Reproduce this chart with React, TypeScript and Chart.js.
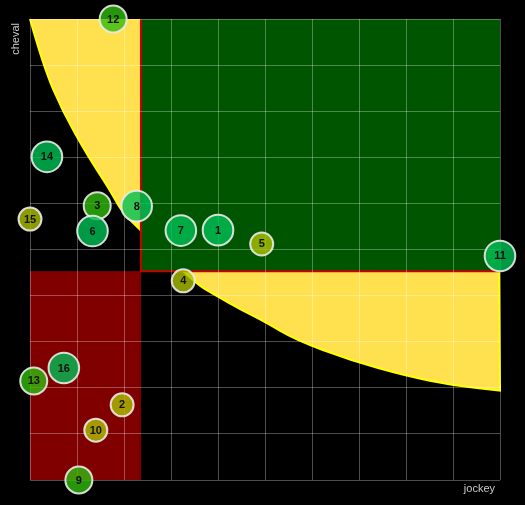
import React, { useEffect, useRef } from "react";
import { Chart, registerables } from "chart.js";

Chart.register(...registerables);

// ---- data ----
const ids = ["1", "2", "3", "4", "5", "6", "7", "8", "9", "10", "11", "12", "13", "14", "15", "16"];
const jockey = [40.0, 19.6, 14.3, 32.6, 49.3, 13.3, 32.1, 22.7, 10.4, 14.0, 100, 17.7, 0.8, 3.6, 0, 7.2];
const cheval = [54.2, 16.3, 59.5, 43.2, 51.2, 54.0, 54.1, 59.4, 0, 10.8, 48.6, 100, 21.5, 70.1, 56.6, 24.3];
const grade = [3, 1, 2, 1, 1, 3, 3, 3, 2, 1, 3, 2, 2, 3, 1, 3];

const jockeyThreshold = 23.6;
const chevalThreshold = 45.3;

const curveJockey = [0, 2.8, 7.0, 12.4, 17.0, 19.5, 23.0, 35.1, 39.4, 45.0, 50.0, 56.5, 68.1, 80.0, 90.1, 100];
const curveCheval = [100, 89.8, 79.8, 70.1, 62.9, 58.2, 54.7, 42.7, 40.1, 36.9, 34.3, 30.4, 26.0, 22.6, 20.5, 19.4];

const axisMin = 0;
const axisMax = 100;
const axisStep = 10;

// ---- styles ----
const gradeRadius: Record<number, number> = { 1: 11.5, 2: 13.5, 3: 15.3 };
const gradeColor: Record<number, string> = {
  1: "rgba(172,192,0,0.8)",
  2: "rgba(50,187,12,0.8)",
  3: "rgba(0,191,85,0.8)",
};

const regionsPlugin = {
  id: "regions",
  beforeDraw(chart: any) {
    const { ctx, scales } = chart;
    const x = scales.x;
    const y = scales.y;
    ctx.save();
    ctx.fillStyle = "#000";
    ctx.fillRect(0, 0, chart.width, chart.height);

    // yellow region above the curve
    const pts = curveJockey.map((v, i) => [x.getPixelForValue(v), y.getPixelForValue(curveCheval[i])]);
    const tracePath = () => {
      ctx.moveTo(pts[0][0], pts[0][1]);
      for (let i = 1; i < pts.length - 1; i++) {
        const mx = (pts[i][0] + pts[i + 1][0]) / 2;
        const my = (pts[i][1] + pts[i + 1][1]) / 2;
        ctx.quadraticCurveTo(pts[i][0], pts[i][1], mx, my);
      }
      const last = pts[pts.length - 1];
      ctx.lineTo(last[0], last[1]);
    };
    ctx.beginPath();
    tracePath();
    ctx.lineTo(x.getPixelForValue(axisMax), y.getPixelForValue(axisMax));
    ctx.lineTo(x.getPixelForValue(axisMin), y.getPixelForValue(axisMax));
    ctx.closePath();
    ctx.fillStyle = "rgb(255,225,80)";
    ctx.fill();

    ctx.beginPath();
    tracePath();
    ctx.lineTo(x.getPixelForValue(axisMax) - 1, y.getPixelForValue(chevalThreshold));
    ctx.strokeStyle = "rgb(255,255,0)";
    ctx.lineWidth = 2;
    ctx.stroke();

    // green quadrant
    const gx0 = x.getPixelForValue(jockeyThreshold);
    const gx1 = x.getPixelForValue(axisMax);
    const gy0 = y.getPixelForValue(axisMax);
    const gy1 = y.getPixelForValue(chevalThreshold);
    ctx.fillStyle = "#005500";
    ctx.fillRect(gx0, gy0, gx1 - gx0, gy1 - gy0);

    // red quadrant
    const rx0 = x.getPixelForValue(axisMin);
    const ry1 = y.getPixelForValue(axisMin);
    ctx.fillStyle = "#800000";
    ctx.fillRect(rx0, gy1, gx0 - rx0, ry1 - gy1);

    // red border of green quadrant
    ctx.beginPath();
    ctx.moveTo(gx0, gy0);
    ctx.lineTo(gx0, gy1);
    ctx.lineTo(gx1, gy1);
    ctx.strokeStyle = "#c80000";
    ctx.lineWidth = 2;
    ctx.stroke();
    ctx.restore();
  },
};

const labelsPlugin = {
  id: "bubbleLabels",
  afterDatasetsDraw(chart: any) {
    const { ctx } = chart;
    const meta = chart.getDatasetMeta(0);
    ctx.save();
    ctx.font = 'bold 11px "Liberation Sans", Arial, sans-serif';
    ctx.fillStyle = "#111";
    ctx.textAlign = "center";
    ctx.textBaseline = "middle";
    meta.data.forEach((el: any, i: number) => {
      ctx.fillText(ids[i], el.x, el.y + 0.5);
    });
    ctx.restore();
  },
};

const axisTitlesPlugin = {
  id: "axisTitles",
  afterDraw(chart: any) {
    const { ctx, chartArea } = chart;
    ctx.save();
    ctx.font = '11px "Liberation Sans", Arial, sans-serif';
    ctx.fillStyle = "#cccccc";
    ctx.textBaseline = "middle";
    ctx.textAlign = "right";
    ctx.fillText("jockey", chartArea.right - 5, chartArea.bottom + 9);
    ctx.translate(15.5, chartArea.top + 4);
    ctx.rotate(-Math.PI / 2);
    ctx.textAlign = "right";
    ctx.fillText("cheval", 0, 0);
    ctx.restore();
  },
};

export default function App() {
  const ref = useRef<HTMLCanvasElement | null>(null);

  useEffect(() => {
    document.body.style.background = "#000";
    const canvas = ref.current;
    if (!canvas) return;
    const points = ids.map((_, i) => ({ x: jockey[i], y: cheval[i], r: gradeRadius[grade[i]] }));
    const gridColor = "rgba(255,255,255,0.3)";
    const chart = new Chart(canvas, {
      type: "bubble",
      data: {
        datasets: [
          {
            label: "chevaux",
            data: points,
            backgroundColor: ids.map((_, i) => gradeColor[grade[i]]),
            borderColor: "rgba(235,235,235,0.9)",
            borderWidth: 2,
            clip: false as any,
          },
        ],
      },
      options: {
        responsive: false,
        animation: false,
        layout: { autoPadding: false, padding: { left: 30, right: 25, top: 19, bottom: 25 } },
        plugins: { legend: { display: false }, tooltip: { enabled: false } },
        scales: {
          x: {
            type: "linear",
            min: axisMin,
            max: axisMax,
            ticks: { display: false, stepSize: axisStep },
            grid: { color: gridColor, drawTicks: false, lineWidth: 1 },
            border: { display: false },
          },
          y: {
            type: "linear",
            min: axisMin,
            max: axisMax,
            ticks: { display: false, stepSize: axisStep },
            grid: { color: gridColor, drawTicks: false, lineWidth: 1 },
            border: { display: false },
          },
        },
      },
      plugins: [regionsPlugin, labelsPlugin, axisTitlesPlugin],
    });
    return () => chart.destroy();
  }, []);

  return (
    <div style={{ position: "fixed", left: 0, top: 0, width: 525, height: 505, background: "#000" }}>
      <canvas ref={ref} width={525} height={505} style={{ display: "block" }} />
    </div>
  );
}
